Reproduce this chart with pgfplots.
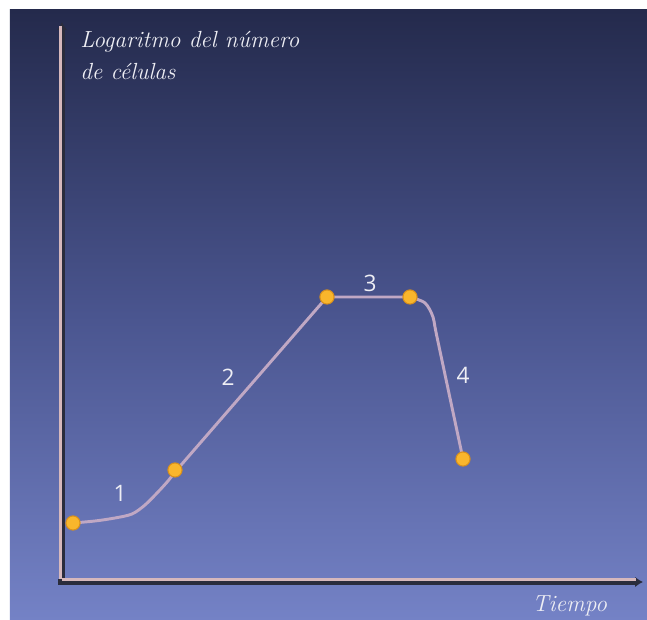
\documentclass[border=0pt]{standalone}
\usepackage{fontspec}
\usepackage{pgfplots}
\pgfplotsset{compat=1.18}
\usetikzlibrary{arrows.meta}
\newfontfamily\numfont{Open Sans}

\definecolor{bgtop}{HTML}{242A4C}
\definecolor{bgmid}{HTML}{4A558F}
\definecolor{bgbot}{HTML}{7482C6}
\definecolor{rodDark}{HTML}{2A2C3C}
\definecolor{rodLight}{HTML}{D6B8BC}
\definecolor{curve}{HTML}{C0A8C4}
\definecolor{ball}{HTML}{F9B62C}
\definecolor{ballEdge}{HTML}{D8901C}
\definecolor{txt}{HTML}{EEEEF4}

\begin{document}
\begin{tikzpicture}
\begin{axis}[
    scale only axis,
    width=477.75pt, height=457.5pt,
    xmin=10, xmax=647, ymin=0, ymax=610,
    axis lines=none, ticks=none,
    clip=false,
]
% white margin and gradient panel
\path[fill=white] (axis cs:0,0) rectangle (axis cs:647,620);
\shade[top color=bgtop, bottom color=bgbot, middle color=bgmid]
    (axis cs:10,0) rectangle (axis cs:647,610);

% axis rods
\draw[line width=5pt, rodDark, -{Latex[length=6pt,width=8pt]}] (axis cs:62,36) -- (axis cs:62,598);
\draw[line width=1.6pt, rodLight] (axis cs:60.5,40) -- (axis cs:60.5,594);
\draw[line width=5pt, rodDark, -{Latex[length=6pt,width=8pt]}] (axis cs:58,38) -- (axis cs:643,38);
\draw[line width=1.6pt, rodLight] (axis cs:62,40.5) -- (axis cs:636,40.5);

% growth curve
\addplot[curve, line width=2.2pt, smooth] coordinates {
    (73,97) (95,99) (115,102) (132,106) (145,115) (158,128) (168,139) (175,148)
};
\addplot[curve, line width=2.2pt] coordinates {
    (175,148) (327,323) (410,323)
};
\addplot[curve, line width=2.2pt, smooth] coordinates {
    (410,323) (425,317) (433,303) (437,283) (463,161)
};
\addplot[only marks, mark=*, mark size=5.3pt, mark options={draw=ballEdge, line width=0.8pt, fill=ball}] coordinates {
    (73,97) (175,150) (327,323) (410,323) (463,161)
};

% phase numbers
\node[txt, font=\numfont\fontsize{17}{20}\selectfont] at (axis cs:120,127) {1};
\node[txt, font=\numfont\fontsize{17}{20}\selectfont] at (axis cs:228,243) {2};
\node[txt, font=\numfont\fontsize{17}{20}\selectfont] at (axis cs:370,337) {3};
\node[txt, font=\numfont\fontsize{17}{20}\selectfont] at (axis cs:463,245) {4};

% axis labels
\node[txt, anchor=base west, inner sep=0pt, font=\itshape\fontsize{17.5}{20}\selectfont] at (axis cs:80,572) {Logaritmo del número};
\node[txt, anchor=base west, inner sep=0pt, font=\itshape\fontsize{17.5}{20}\selectfont] at (axis cs:80,540) {de células};
\node[txt, anchor=base west, inner sep=0pt, font=\itshape\fontsize{17.5}{20}\selectfont] at (axis cs:532,8) {Tiempo};
\end{axis}
\end{tikzpicture}
\end{document}
